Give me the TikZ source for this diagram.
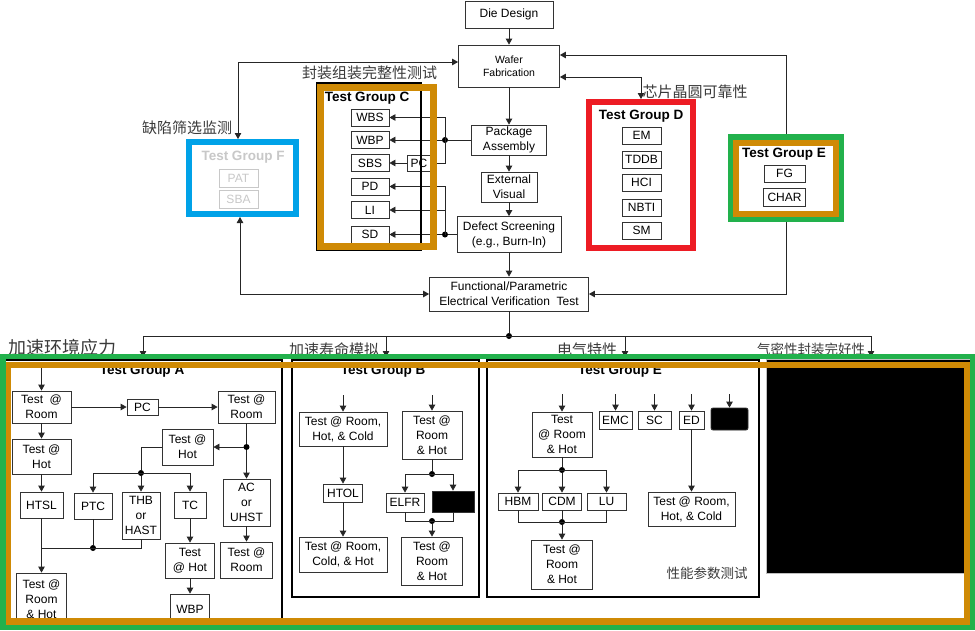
\documentclass[tikz,border=0pt]{standalone}
\usepackage{fontspec}
\setmainfont{Liberation Sans}
\newfontfamily\cjk{Noto Sans CJK SC}
\usetikzlibrary{arrows.meta}
\definecolor{grn}{HTML}{22B14C}
\definecolor{org}{HTML}{CF8A05}
\definecolor{rd}{HTML}{ED1C24}
\definecolor{blu}{HTML}{00A2E8}
\definecolor{lgr}{HTML}{C8C8C8}
\definecolor{cjkc}{HTML}{3A3A3A}
\newcommand{\fsz}[2]{\fontsize{#1}{#2}\selectfont}
\begin{document}
\begin{tikzpicture}[x=1pt,y=1pt,
 bx/.style={draw=black!80, line width=0.8pt, fill=white, inner sep=0pt, align=center, font=\fsz{12}{15}},
 ln/.style={draw=black!85, line width=0.8pt},
 arr/.style={ln, -{Triangle[length=6pt,width=6.5pt]}},
 arr2/.style={ln, {Triangle[length=6pt,width=6.5pt]}-{Triangle[length=6pt,width=6.5pt]}},
 dot/.style={circle, fill=black, inner sep=0pt, minimum size=6pt, outer sep=0pt},
 ttl/.style={font=\bfseries\fsz{13.5}{15}, inner sep=0pt},
 cj/.style={font=\cjk\fsz{15}{17}, text=cjkc, inner sep=0pt},
 frm/.style={inner sep=0pt, fill=white},
]
\useasboundingbox (0,0) rectangle (975,-630);
\fill[white] (0,0) rectangle (975,-630);

% ---------- group frames (top) ----------
\node[frm, draw=blu, line width=6pt, minimum width=107, minimum height=72] (grpF) at (242.5,-178) {};
\node[frm, draw=rd, line width=6pt, minimum width=104, minimum height=146] (grpD) at (641,-175) {};
\node[frm, draw=grn, line width=5.5pt, minimum width=111, minimum height=82.5] (grpE) at (786,-178) {};

% ---------- main flow ----------
\node[bx, minimum width=88, minimum height=27] (die) at (509,-14.5) {Die Design};
\node[bx, minimum width=101, minimum height=42, font=\fsz{10.5}{13}] (wafer) at (509,-66) {Wafer\\Fabrication};
\node[bx, minimum width=75, minimum height=30] (pkg) at (509,-140) {Package\\Assembly};
\node[bx, minimum width=56, minimum height=30] (ext) at (509,-187) {External\\Visual};
\node[bx, minimum width=104, minimum height=36] (defect) at (509,-234.5) {Defect Screening\\(e.g., Burn-In)};
\node[bx, minimum width=159, minimum height=34] (fevt) at (509,-294) {Functional/Parametric\\Electrical Verification\ \ Test};

\draw[arr] (die) -- (wafer);
\draw[arr] (wafer) -- (pkg);
\draw[arr] (pkg) -- (ext);
\draw[arr] (ext) -- (defect);
\draw[arr] (defect) -- (fevt);

% ---------- Test Group F ----------
\node[ttl, text=lgr] (ttlF) at (243,-157) {Test Group F};
\node[bx, draw=lgr, text=lgr, minimum width=39, minimum height=18] (pat) at (238.5,-178) {PAT};
\node[bx, draw=lgr, text=lgr, minimum width=39, minimum height=18] (sba) at (238.5,-199.5) {SBA};

% ---------- Test Group C ----------
\node[ttl] (ttlC) at (367,-98) {Test Group C};
\node[bx, minimum width=38, minimum height=17] (wbs) at (370,-117.5) {WBS};
\node[bx, minimum width=38, minimum height=17] (wbp) at (370,-140) {WBP};
\node[bx, minimum width=38, minimum height=17] (sbs) at (370,-163) {SBS};
\node[bx, minimum width=38, minimum height=17] (pd) at (370,-186.5) {PD};
\node[bx, minimum width=38, minimum height=17] (li) at (370,-210) {LI};
\node[bx, minimum width=38, minimum height=17] (sd) at (370,-234.5) {SD};
\node[bx, minimum width=24, minimum height=16] (pc) at (419,-163) {PC};

\node[dot] (du) at (445,-140) {};
\draw[ln] (pkg.west) -- (du);
\draw[arr] (du.center) |- (wbs.east);
\draw[arr] (du) -- (wbp.east);
\draw[ln] (du.center) |- (pc.east);
\draw[arr] (pc.west) -- (sbs.east);
\node[dot] (dl) at (445,-234.5) {};
\draw[ln] (defect.west) -- (dl);
\draw[arr] (dl.center) |- (pd.east);
\draw[arr] (dl.center) |- (li.east);
\draw[arr] (dl) -- (sd.east);

\draw[line width=1.8pt] (317,-83) rectangle (421,-250);
\draw[org, line width=6.5pt] (320.5,-87.5) rectangle (433.5,-246.5);

% ---------- Test Group D ----------
\node[ttl] (ttlD) at (641,-116) {Test Group D};
\node[bx, minimum width=39, minimum height=17] (em) at (641.5,-135.5) {EM};
\node[bx, minimum width=39, minimum height=17] (tddb) at (641.5,-159.5) {TDDB};
\node[bx, minimum width=39, minimum height=17] (hci) at (641.5,-182.5) {HCI};
\node[bx, minimum width=39, minimum height=17] (nbti) at (641.5,-207.5) {NBTI};
\node[bx, minimum width=39, minimum height=17] (sm) at (641.5,-230.5) {SM};

% ---------- Test Group E (top) ----------
\draw[org, line width=6pt] (736,-142.5) rectangle (835.8,-213.5);
\node[ttl] (ttlE) at (784,-154) {Test Group E};
\node[bx, minimum width=41, minimum height=17] (fg) at (784.5,-173.5) {FG};
\node[bx, minimum width=42, minimum height=18] (char) at (784.5,-197) {CHAR};

% ---------- connectors around ----------
\draw[arr2] ([xshift=-4.5pt]grpF.north) |- ([yshift=4pt]wafer.west);
\draw[arr2] ([xshift=-2.5pt]grpF.south) |- (fevt.west);
\draw[arr] (grpE.north) |- ([yshift=11pt]wafer.east);
\draw[arr] (grpE.south) |- (fevt.east);
\draw[arr2] ([yshift=-11pt]wafer.east) -| (grpD.north);

% ---------- labels (top) ----------
\node[cj] (lbF) at (187,-128) {缺陷筛选监测};
\node[cj] (lbC) at (369.5,-73) {封装组装完整性测试};
\node[cj] (lbD) at (695,-92) {芯片晶圆可靠性};

% ---------- distribution ----------
\node[dot] (dd) at (509,-336) {};
\draw[ln] (fevt.south) -- (dd);
\coordinate (hA) at (143,-336);
\coordinate (hB) at (386,-336);
\coordinate (hE) at (625,-336);
\coordinate (hX) at (871,-336);
\coordinate (tA) at (143,-357);
\coordinate (tB) at (386,-357);
\coordinate (tE) at (625,-357);
\coordinate (tX) at (871,-357);
\draw[ln] (hA) -- (hX);
\draw[arr] (hA) -- (tA);
\draw[arr] (hB) -- (tB);
\draw[arr] (hE) -- (tE);
\draw[arr] (hX) -- (tX);

% ---------- lower group boxes ----------
\draw[line width=2pt] (4,-360) rectangle (281.5,-628);
\draw[line width=2pt] (292,-360) rectangle (479,-597);
\draw[line width=2pt] (487,-360) rectangle (759,-597);
\draw[draw=black!25, fill=black] (766,-359) rectangle (973,-573);

\node[ttl] (ttlA) at (142,-371) {Test Group A};
\node[ttl] (ttlB) at (383,-371) {Test Group B};
\node[ttl] (ttlE2) at (620,-371) {Test Group E};

% ---------- Group A ----------
\coordinate (inA) at (41.5,-366);
\node[bx, minimum width=59, minimum height=32] (a1) at (41.5,-407) {Test\ \ @\\Room};
\node[bx, minimum width=31, minimum height=16] (pcA) at (142.5,-407) {PC};
\node[bx, minimum width=57, minimum height=32] (a2) at (246.5,-407) {Test @\\Room};
\node[bx, minimum width=59, minimum height=35] (a3) at (41.5,-456.5) {Test @\\Hot};
\node[bx, minimum width=43, minimum height=26] (htsl) at (41.5,-505) {HTSL};
\node[bx, minimum width=51, minimum height=36] (a4) at (187.5,-447) {Test @\\Hot};
\node[dot] (dA1) at (246.5,-447) {};
\node[bx, minimum width=47, minimum height=47] (acu) at (246.5,-502.5) {AC\\or\\UHST};
\node[bx, minimum width=52, minimum height=36] (a5) at (246.5,-560) {Test @\\Room};
\node[dot] (dA2) at (141,-473) {};
\node[bx, minimum width=38, minimum height=26] (ptc) at (93,-506) {PTC};
\node[bx, minimum width=38, minimum height=47] (thb) at (141,-515.5) {THB\\or\\HAST};
\node[bx, minimum width=32, minimum height=26] (tc) at (190,-505) {TC};
\node[bx, minimum width=49, minimum height=35] (a6) at (190,-560.5) {Test\\@ Hot};
\node[bx, minimum width=39, minimum height=30] (wbpA) at (190,-609) {WBP};
\node[bx, minimum width=50, minimum height=52] (a7) at (41.5,-599) {Test @\\Room\\\& Hot};
\node[dot] (dA3) at (93,-548) {};
\coordinate (jA) at (41.5,-548);

\draw[arr] (inA) -- (a1);
\draw[arr] (a1) -- (pcA);
\draw[arr] (pcA) -- (a2);
\draw[arr] (a1) -- (a3);
\draw[arr] (a3) -- (htsl);
\draw[ln] (a2) -- (dA1);
\draw[arr] (dA1) -- (a4);
\draw[arr] (dA1) -- (acu);
\draw[arr] (acu) -- (a5);
\draw[ln] (a4.west) -| (dA2);
\draw[arr] (dA2.center) -| (ptc.north);
\draw[arr] (dA2.center) -| (tc.north);
\draw[arr] (dA2) -- (thb);
\draw[arr] (tc) -- (a6);
\draw[arr] (a6) -- (wbpA);
\draw[arr] (htsl) -- (a7);
\draw[ln] (ptc.south) -- (dA3);
\draw[ln] (thb.south) |- (jA);

% ---------- Group B ----------
\coordinate (inB1) at (343,-395);
\coordinate (inB2) at (432,-395);
\node[bx, minimum width=88, minimum height=34] (b1) at (343,-429) {Test @ Room,\\Hot, \& Cold};
\node[bx, minimum width=39, minimum height=18] (htol) at (343,-493) {HTOL};
\node[bx, minimum width=88, minimum height=35] (b3) at (343,-554.5) {Test @ Room,\\Cold, \& Hot};
\node[bx, minimum width=60, minimum height=48] (b2) at (432,-435) {Test @\\Room\\\& Hot};
\node[dot] (dB1) at (432,-474) {};
\node[bx, minimum width=38, minimum height=19] (elfr) at (405,-502.5) {ELFR};
\node[bx, fill=black, minimum width=42, minimum height=21] (blkB) at (453,-501.5) {};
\node[dot] (dB2) at (432,-521) {};
\node[bx, minimum width=61, minimum height=48] (b4) at (432,-561) {Test @\\Room\\\& Hot};

\draw[arr] (inB1) -- (b1);
\draw[arr] (b1) -- (htol);
\draw[arr] (htol) -- (b3);
\draw[arr] (inB2) -- (b2);
\draw[ln] (b2) -- (dB1);
\draw[arr] (dB1.center) -| (elfr.north);
\draw[arr] (dB1.center) -| (blkB.north);
\draw[ln] (elfr.south) |- (dB2.center);
\draw[ln] (blkB.south) |- (dB2.center);
\draw[arr] (dB2) -- (b4);

% ---------- Group E (lower) ----------
\coordinate (inE1) at (562,-394);
\coordinate (inE2) at (615.5,-394);
\coordinate (inE3) at (654.5,-394);
\coordinate (inE4) at (691.5,-394);
\coordinate (inE5) at (729.5,-394);
\node[bx, minimum width=60, minimum height=45] (e1) at (562,-434.5) {Test\\@ Room\\\& Hot};
\node[bx, minimum width=33, minimum height=18] (emc) at (615.5,-420) {EMC};
\node[bx, minimum width=33, minimum height=18] (sc) at (654.5,-420) {SC};
\node[bx, minimum width=25, minimum height=18] (ed) at (691.5,-420) {ED};
\node[bx, fill=black, rounded corners=2pt, minimum width=37, minimum height=22] (blkE) at (729.5,-419) {};
\node[dot] (dE1) at (562,-470) {};
\node[bx, minimum width=40, minimum height=17] (hbm) at (518,-501.5) {HBM};
\node[bx, minimum width=39, minimum height=17] (cdm) at (562,-501.5) {CDM};
\node[bx, minimum width=39, minimum height=17] (lu) at (606.5,-501.5) {LU};
\node[dot] (dE2) at (562,-522) {};
\node[bx, minimum width=61, minimum height=49] (e2) at (562,-564.5) {Test @\\Room\\\& Hot};
\node[bx, minimum width=87, minimum height=34] (e3) at (691.5,-509) {Test @ Room,\\Hot, \& Cold};

\draw[arr] (inE1) -- (e1);
\draw[arr] (inE2) -- (emc);
\draw[arr] (inE3) -- (sc);
\draw[arr] (inE4) -- (ed);
\draw[arr] (inE5) -- (blkE);
\draw[ln] (e1) -- (dE1);
\draw[arr] (dE1.center) -| (hbm.north);
\draw[arr] (dE1) -- (cdm);
\draw[arr] (dE1.center) -| (lu.north);
\draw[ln] (hbm.south) |- (dE2.center);
\draw[ln] (lu.south) |- (dE2.center);
\draw[ln] (cdm) -- (dE2);
\draw[arr] (dE2) -- (e2);
\draw[arr] (ed) -- (e3);

% ---------- labels (lower) ----------
\node[cj, font=\cjk\fsz{18}{20}] (lbA) at (62.5,-348) {加速环境应力};
\node[cj] (lbB) at (334,-350) {加速寿命模拟};
\node[cj] (lbE) at (587,-350) {电气特性};
\node[cj, font=\cjk\fsz{13.5}{15}] (lbX) at (811,-349) {气密性封装完好性};
\node[cj, font=\cjk\fsz{13.5}{15}] (lbP) at (707,-573) {性能参数测试};

% ---------- outer frames (lower) ----------
\draw[org, line width=6.5pt] (8,-365) rectangle (967.5,-621.5);
\draw[grn, line width=5.5pt] (2.75,-356.5) rectangle (972.25,-627.25);
\end{tikzpicture}
\end{document}
